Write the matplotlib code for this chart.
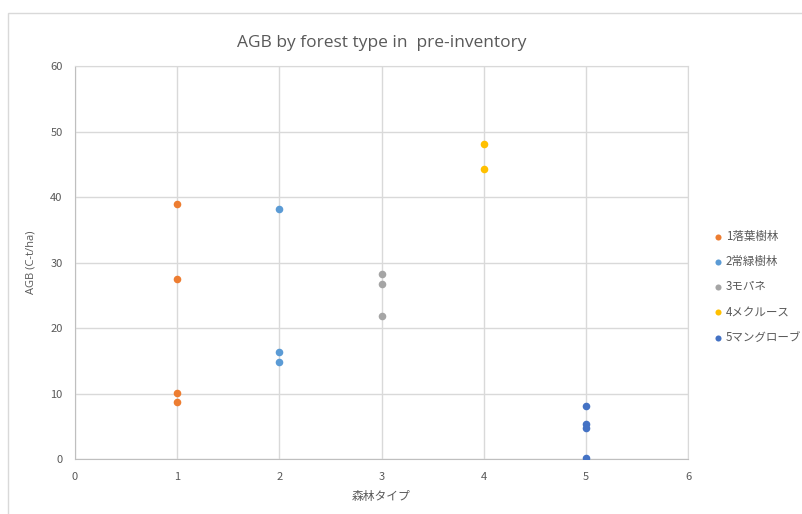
import matplotlib
matplotlib.use("Agg")
import matplotlib.pyplot as plt
from matplotlib.patches import Rectangle

plt.rcParams['font.family'] = ['Noto Sans CJK JP', 'DejaVu Sans']

series_names = ["1落葉樹林", "2常緑樹林", "3モパネ", "4メクルース", "5マングローブ"]
series_colors = ["#ED7D31", "#5B9BD5", "#A5A5A5", "#FFC000", "#4472C4"]
forest_type = [1, 2, 3, 4, 5]
agb_values = [
    [38.9, 27.5, 10.1, 8.7],
    [38.1, 16.3, 14.85],
    [28.3, 26.7, 21.9],
    [48.05, 44.3],
    [8.1, 5.4, 4.7, 0.2],
]
x_ticks = [0, 1, 2, 3, 4, 5, 6]
y_ticks = [0, 10, 20, 30, 40, 50, 60]

fig = plt.figure(figsize=(8.03, 5.14), dpi=100)
fig.patches.append(Rectangle((8 / 803, -0.01), 1.0, 1 - 13 / 514 + 0.01,
                             transform=fig.transFigure, fill=False,
                             edgecolor="#D9D9D9", linewidth=1.0))

ax = fig.add_axes([75 / 803, 1 - 459 / 514, (688 - 75) / 803, (459 - 66) / 514])
for name, color, t, vals in zip(series_names, series_colors, forest_type, agb_values):
    ax.scatter([t] * len(vals), vals, s=30, color=color, label=name,
               zorder=3, linewidths=0)

ax.set_xlim(0, 6)
ax.set_ylim(0, 60)
ax.set_xticks(x_ticks)
ax.set_yticks(y_ticks)
ax.grid(True, color="#D9D9D9", linewidth=1.0)
ax.set_axisbelow(True)
for s in ax.spines.values():
    s.set_color("#D9D9D9")
ax.spines["bottom"].set_color("#BFBFBF")
ax.spines["left"].set_color("#BFBFBF")
ax.tick_params(length=0, labelsize=8, colors="#595959", pad=9)

ax.set_title("AGB by forest type in  pre-inventory", fontsize=12.5,
             color="#595959", pad=14, family=["Open Sans", "DejaVu Sans"])
ax.set_xlabel("森林タイプ", fontsize=8.5, color="#595959", labelpad=6)
ax.set_ylabel("AGB (C-t/ha)", fontsize=8, color="#595959", labelpad=10,
              family=["Open Sans", "DejaVu Sans"])

leg = ax.legend(loc="center left", bbox_to_anchor=(1.02, 0.438), frameon=False,
                fontsize=8.3, labelcolor="#595959", handletextpad=0.1,
                labelspacing=1.05, markerscale=0.8, handlelength=1.2)

fig.savefig("out.png", dpi=100)
